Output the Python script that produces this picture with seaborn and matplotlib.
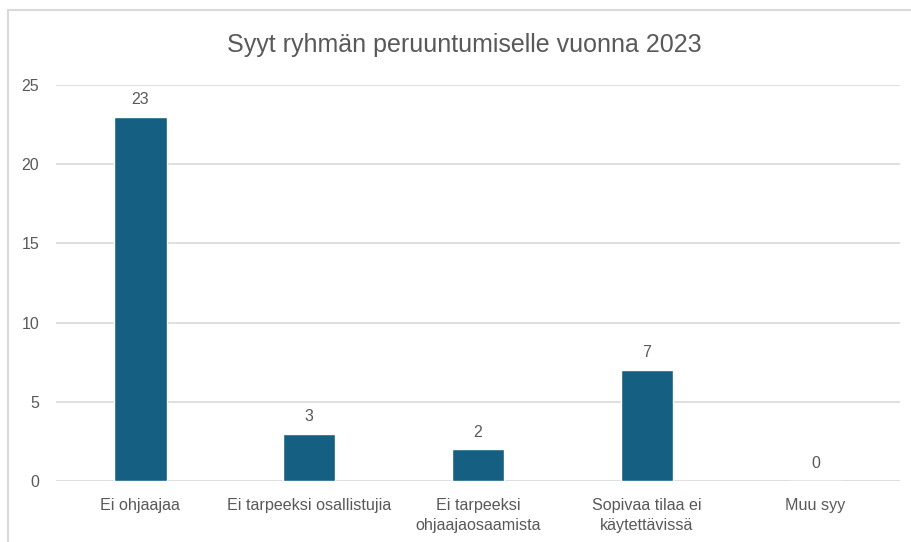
import seaborn as sns
import matplotlib.pyplot as plt
import pandas as pd
from matplotlib.lines import Line2D

# data
categories = ["Ei ohjaajaa", "Ei tarpeeksi osallistujia", "Ei tarpeeksi\nohjaajaosaamista",
              "Sopivaa tilaa ei\nkäytettävissä", "Muu syy"]
counts = [23, 3, 2, 7, 0]
yticks = [0, 5, 10, 15, 20, 25]

df = pd.DataFrame({"syy": categories, "lkm": counts})

sns.set_theme(style="white")
plt.rcParams['font.family'] = ["Liberation Sans", "DejaVu Sans"]
text_col = "#595959"
grid_col = "#d9d9d9"

fig = plt.figure(figsize=(9.12, 5.42), dpi=100)
ax = fig.add_axes([0.0614, 0.1125, 0.9254, 0.7307])

sns.barplot(data=df, x="syy", y="lkm", color="#156082", width=0.31, saturation=1, ax=ax)
ax.bar_label(ax.containers[0], padding=7, fontsize=11.5, color=text_col)

ax.set_ylim(0, 25)
ax.set_yticks(yticks)
ax.set_xlabel("")
ax.set_ylabel("")
for s in ax.spines.values():
    s.set_visible(False)
ax.yaxis.grid(True, color=grid_col, linewidth=1.2)
ax.set_axisbelow(True)
ax.tick_params(axis="y", length=0, pad=12, labelsize=11.5, labelcolor=text_col)
ax.tick_params(axis="x", length=0, pad=12, labelcolor=text_col)
for lab in ax.get_xticklabels():
    lab.set_fontsize(11.6)
    lab.set_linespacing(1.45)

fig.text(0.509, 0.917, "Syyt ryhmän peruuntumiselle vuonna 2023", ha="center", va="center",
         fontsize=18, color=text_col)

# chart frame (only left and top edges visible in the crop)
fig.add_artist(Line2D([8 / 912, 8 / 912], [0, 1 - 10 / 542], color=grid_col, lw=1.5))
fig.add_artist(Line2D([8 / 912, 1], [1 - 10 / 542, 1 - 10 / 542], color=grid_col, lw=1.5))

plt.savefig("out.png", dpi=100)
